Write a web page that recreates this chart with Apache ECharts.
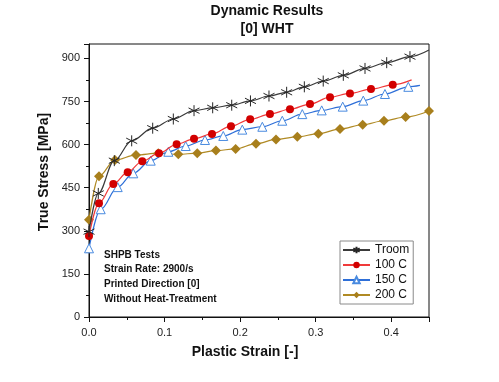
<!DOCTYPE html>
<html>
<head>
<meta charset="utf-8">
<script src="https://cdn.jsdelivr.net/npm/echarts@6/dist/echarts.min.js"></script>
<style>html,body{margin:0;padding:0;background:#fff}#c{width:499px;height:382px}</style>
</head>
<body>
<div id="c"></div>
<script>
// ---- data ----
const seriesNames = ['Troom', '100 C', '150 C', '200 C'];

const troomStrain = [0, 0.0123, 0.0335, 0.0565, 0.0843, 0.1116, 0.139, 0.1637, 0.1889, 0.2137, 0.2382, 0.2616, 0.285, 0.31, 0.3366, 0.3653, 0.394, 0.4248];
const troomStress = [297, 430, 544, 613, 657, 689, 718, 728, 737, 752, 769, 782, 801, 821, 841, 865, 885, 906];

const c100Strain = [0, 0.0132, 0.0322, 0.0512, 0.0705, 0.0926, 0.116, 0.139, 0.1628, 0.1879, 0.2133, 0.2395, 0.266, 0.2925, 0.319, 0.3454, 0.3732, 0.402];
const c100Stress = [282, 396, 463, 504, 542, 570, 601, 620, 637, 664, 688, 706, 723, 741, 765, 778, 793, 808];

const c150Strain = [0, 0.0155, 0.038, 0.0586, 0.0817, 0.105, 0.128, 0.1535, 0.1777, 0.2029, 0.2294, 0.2558, 0.2823, 0.308, 0.3358, 0.363, 0.3917, 0.4226];
const c150Stress = [239, 375, 452, 500, 544, 575, 595, 616, 630, 652, 662, 683, 706, 719, 732, 753, 776, 801];

const c200Strain = [0, 0.0132, 0.0344, 0.0622, 0.0917, 0.1182, 0.1433, 0.168, 0.1941, 0.221, 0.2475, 0.2757, 0.3035, 0.3322, 0.3622, 0.3904, 0.4191, 0.45];
const c200Stress = [338, 490, 546, 564, 570, 566, 570, 579, 585, 603, 618, 627, 638, 654, 669, 683, 696, 717];

// unmarked end of each curve (null = curve ends on its last marker)
const lineEndStrain = [0.45, 0.427, 0.438, null];
const lineEndStress = [929, 825, 806, null];

const noteLines = ['SHPB Tests', 'Strain Rate: 2900/s', 'Printed Direction [0]', 'Without Heat-Treatment'];

// ---- chart ----
const strains = [troomStrain, c100Strain, c150Strain, c200Strain];
const stresses = [troomStress, c100Stress, c150Stress, c200Stress];

const starPath = 'path://M5,0L5,10M0.67,2.5L9.33,7.5M0.67,7.5L9.33,2.5';

const styles = [
  { line: '#3a3a3a', symbol: starPath, size: [11, 11], item: { color: 'none', borderColor: '#262626', borderWidth: 1 } },
  { line: '#f03a3a', symbol: 'circle', size: 8, item: { color: '#d20000', borderColor: '#d20000', borderWidth: 0 } },
  { line: '#2e6fd8', symbol: 'triangle', size: 9, item: { color: '#ffffff', borderColor: '#4a8be0', borderWidth: 1 } },
  { line: '#b08a24', symbol: 'diamond', size: 10, item: { color: '#a87f1c', borderColor: '#a87f1c', borderWidth: 0 } }
];

function buildData(i) {
  const d = strains[i].map((x, k) => [x, stresses[i][k]]);
  if (lineEndStrain[i] !== null) {
    d.push({ value: [lineEndStrain[i], lineEndStress[i]], symbol: 'none' });
  }
  return d;
}

const series = seriesNames.map((name, i) => ({
  name: name,
  type: 'line',
  data: buildData(i),
  smooth: 0.35,
  smoothMonotone: 'x',
  showAllSymbol: true,
  symbol: styles[i].symbol,
  symbolSize: styles[i].size,
  lineStyle: { color: styles[i].line, width: 1.2 },
  itemStyle: styles[i].item,
  z: 10 - i
}));

const font = 'Liberation Sans, Arial, Helvetica, sans-serif';

const chart = echarts.init(document.getElementById('c'), null, { renderer: 'canvas' });
chart.setOption({
  animation: false,
  backgroundColor: '#ffffff',
  textStyle: { fontFamily: font },
  grid: {
    left: 89, top: 44, width: 340, height: 273, containLabel: false,
    show: true, borderColor: '#111', borderWidth: 1, backgroundColor: 'transparent'
  },
  xAxis: {
    type: 'value', position: 'bottom', min: 0, max: 0.45, interval: 0.1,
    name: 'Plastic Strain [-]', nameLocation: 'middle', nameGap: 28,
    nameTextStyle: { fontFamily: font, fontSize: 14, fontWeight: 'bold', color: '#111', padding: [0, 28, 0, 0] },
    axisLine: { show: true, lineStyle: { color: '#111', width: 1 } },
    axisTick: { show: true, inside: false, length: 5, lineStyle: { color: '#111' } },
    minorTick: { show: true, splitNumber: 2, length: 3, lineStyle: { color: '#111' } },
    axisLabel: { fontFamily: font, fontSize: 11, color: '#222', margin: 10, showMaxLabel: false,
      formatter: v => v.toFixed(1) },
    splitLine: { show: false }
  },
  yAxis: {
    type: 'value', position: 'left', min: 0, max: 950, interval: 150,
    name: 'True Stress [MPa]', nameLocation: 'middle', nameGap: 36, nameRotate: 90,
    nameTextStyle: { fontFamily: font, fontSize: 14, fontWeight: 'bold', color: '#111', padding: [0, 0, 0, 17] },
    axisLine: { show: true, lineStyle: { color: '#111', width: 1 } },
    axisTick: { show: true, inside: false, length: 5, lineStyle: { color: '#111' } },
    minorTick: { show: true, splitNumber: 2, length: 3, lineStyle: { color: '#111' } },
    axisLabel: { fontFamily: font, fontSize: 11, color: '#222', margin: 9, showMaxLabel: false },
    splitLine: { show: false }
  },
  legend: {
    orient: 'vertical',
    left: 340, top: 241,
    padding: [3, 4, 3, 2],
    itemGap: 3,
    itemWidth: 27, itemHeight: 8,
    borderColor: '#8a8a8a', borderWidth: 1,
    backgroundColor: '#ffffff',
    textStyle: { fontFamily: font, fontSize: 12, color: '#111' },
    data: seriesNames
  },
  graphic: [
    { type: 'text', style: { text: 'Dynamic Results', x: 267, y: 11, textAlign: 'center', textVerticalAlign: 'middle', font: 'bold 14px ' + font, fill: '#111' } },
    { type: 'text', style: { text: '[0] WHT', x: 267, y: 29, textAlign: 'center', textVerticalAlign: 'middle', font: 'bold 14px ' + font, fill: '#111' } }
  ].concat(noteLines.map((t, k) => ({
    type: 'text',
    style: { text: t, x: 104, y: 255 + k * 14.7, textAlign: 'left', textVerticalAlign: 'middle', font: 'bold 10px ' + font, fill: '#111' }
  }))),
  series: series
});
</script>
</body>
</html>
